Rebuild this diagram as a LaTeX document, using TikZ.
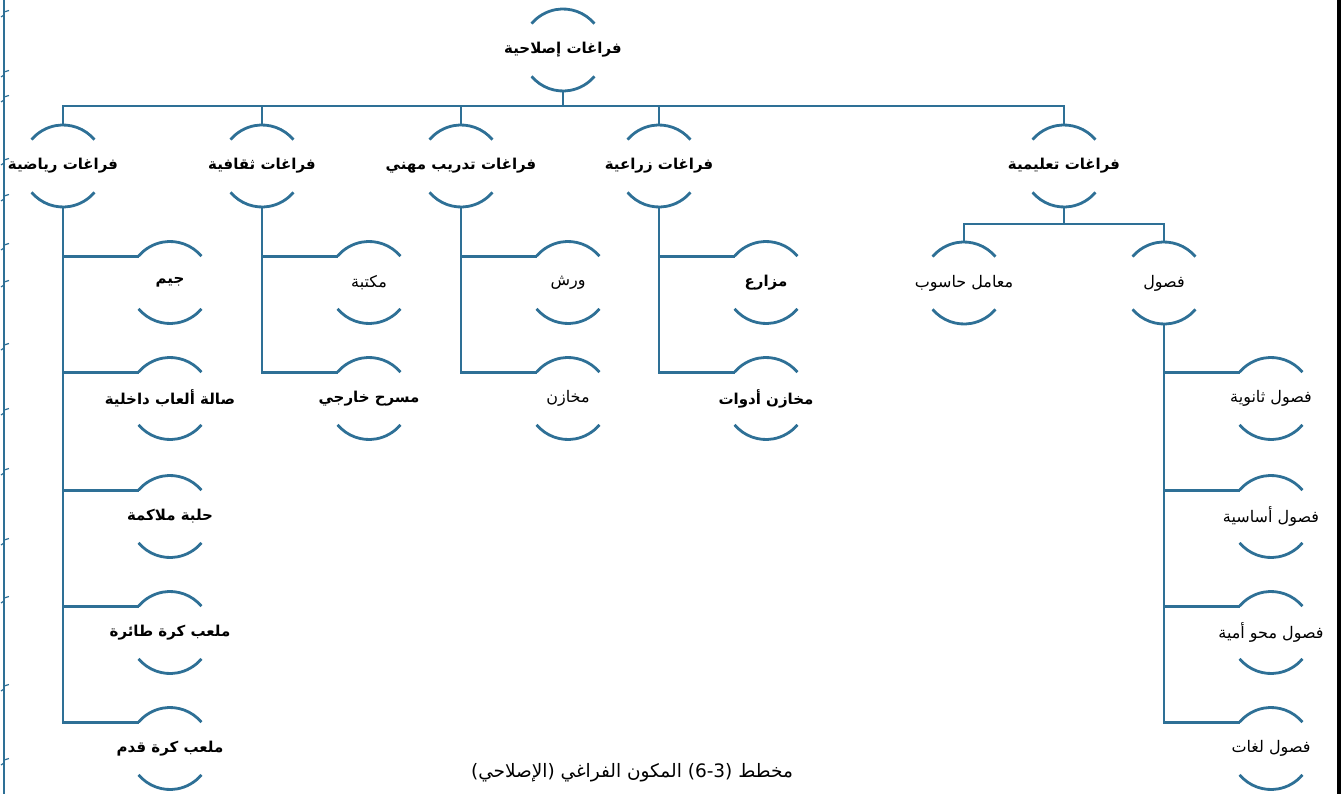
\documentclass[tikz,border=0pt]{standalone}
\usepackage{fontspec}
\newfontfamily\arabicfont[Script=Arabic]{DejaVu Sans}
\TeXXeTstate=1
\definecolor{arcblue}{RGB}{46,112,150}
\tikzset{
  arcnode/.style={circle, minimum size=82pt, inner sep=0pt, outer sep=0pt},
  arcline/.style={draw=arcblue, line width=2.8pt},
  conn/.style={draw=arcblue, line width=2.8pt},
  lblb/.style={font=\arabicfont\bfseries\fontsize{15}{18}\selectfont, inner sep=0pt},
  lbln/.style={font=\arabicfont\fontsize{16}{19}\selectfont, inner sep=0pt},
  captxt/.style={font=\arabicfont\fontsize{18.5}{22}\selectfont, inner sep=0pt},
  deco/.style={draw=arcblue, line width=2pt},
  rborder/.style={draw=black, line width=4pt},
}
\newcommand\anode[5]{\node[arcnode] (#1) at (#2,-#3) {};\node[#4] (#1-t) at (#1) {#5};}
\begin{document}
\begin{tikzpicture}[x=1pt,y=1pt]
\useasboundingbox (0,0) rectangle (1343,-794);
% borders
\draw[deco] (4,0) -- (4,-794);
\foreach \yy in {12,72,97,160,196,245,282,345,410,470,540,598,686,760}{
  \draw[deco, line width=1.2pt] (4,-\yy) -- ++(5,1.5);
  \draw[deco, line width=1.2pt] (4,-\yy-3) -- ++(-3,-2);
}
\draw[rborder] (1339,0) -- (1339,-794);
% nodes
\anode{top}{563}{50}{lblb}{\beginR فراغات إصلاحية\endR}
\anode{sport}{63}{166}{lblb}{\beginR فراغات رياضية\endR}
\anode{cult}{262}{166}{lblb}{\beginR فراغات ثقافية\endR}
\anode{voc}{461}{166}{lblb}{\beginR فراغات تدريب مهني\endR}
\anode{agri}{659}{166}{lblb}{\beginR فراغات زراعية\endR}
\anode{edu}{1064}{166}{lblb}{\beginR فراغات تعليمية\endR}
% sports children
\anode{s1}{170}{282.5}{lblb}{\beginR جيم\endR}
\anode{s2}{170}{398.5}{lblb}{\beginR صالة ألعاب داخلية\endR}
\anode{s3}{170}{516.5}{lblb}{\beginR حلبة ملاكمة\endR}
\anode{s4}{170}{632.5}{lblb}{\beginR ملعب كرة طائرة\endR}
\anode{s5}{170}{748.5}{lblb}{\beginR ملعب كرة قدم\endR}
% cultural
\anode{c1}{369}{282.5}{lbln}{\beginR مكتبة\endR}
\anode{c2}{369}{398.5}{lblb}{\beginR مسرح خارجي\endR}
% vocational
\anode{v1}{568}{282.5}{lbln}{\beginR ورش\endR}
\anode{v2}{568}{398.5}{lbln}{\beginR مخازن\endR}
% agricultural
\anode{a1}{766}{282.5}{lblb}{\beginR مزارع\endR}
\anode{a2}{766}{398.5}{lblb}{\beginR مخازن أدوات\endR}
% educational
\anode{lab}{964}{283}{lbln}{\beginR معامل حاسوب\endR}
\anode{fus}{1164}{283}{lbln}{\beginR فصول\endR}
\anode{f1}{1271}{398.5}{lbln}{\beginR فصول ثانوية\endR}
\anode{f2}{1271}{516.5}{lbln}{\beginR فصول أساسية\endR}
\anode{f3}{1271}{632.5}{lbln}{\beginR فصول محو أمية\endR}
\anode{f4}{1271}{748.5}{lbln}{\beginR فصول لغات\endR}
% arcs
\foreach \n in {top,sport,cult,voc,agri,edu,s1,s2,s3,s4,s5,c1,c2,v1,v2,a1,a2,lab,fus,f1,f2,f3,f4}{
  \draw[arcline] (\n.40) arc[start angle=40,end angle=140,radius=41pt];
  \draw[arcline] (\n.220) arc[start angle=220,end angle=320,radius=41pt];
}
% connectors
\coordinate (bar) at (563,-106);
\draw[conn] (top.south) -- (bar);
\foreach \n in {sport,cult,voc,agri,edu}{\draw[conn] (\n.north) |- (bar);}
\foreach \n in {s1,s2,s3,s4,s5}{\draw[conn] (sport.south) |- (\n.140);}
\foreach \n in {c1,c2}{\draw[conn] (cult.south) |- (\n.140);}
\foreach \n in {v1,v2}{\draw[conn] (voc.south) |- (\n.140);}
\foreach \n in {a1,a2}{\draw[conn] (agri.south) |- (\n.140);}
\coordinate (ebar) at (1064,-224);
\draw[conn] (edu.south) -- (ebar);
\foreach \n in {lab,fus}{\draw[conn] (\n.north) |- (ebar);}
\foreach \n in {f1,f2,f3,f4}{\draw[conn] (fus.south) |- (\n.140);}
% caption
\node[captxt] (cap) at (632,-773) {\beginR مخطط \beginL(6-3)\endL{}  المكون الفراغي (الإصلاحي)\endR};
\end{tikzpicture}
\end{document}
